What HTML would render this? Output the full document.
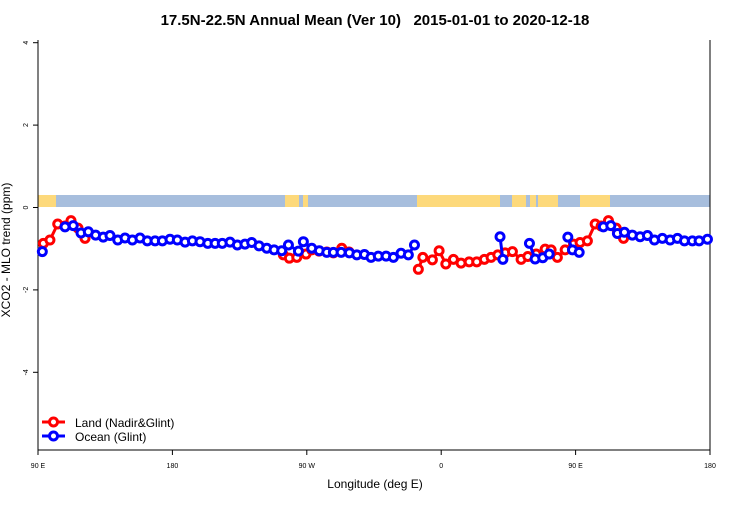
<!DOCTYPE html>
<html><head><meta charset="utf-8"><style>
body{margin:0;background:#fff;font-family:"Liberation Sans",sans-serif}
svg text{font-family:"Liberation Sans",sans-serif}
</style></head><body>
<svg id="c" width="750" height="500" xmlns="http://www.w3.org/2000/svg">
<text x="375" y="25" text-anchor="middle" font-size="15" font-weight="bold" style="white-space:pre" xml:space="preserve">17.5N-22.5N Annual Mean (Ver 10)   2015-01-01 to 2020-12-18</text>
<g id="strip"></g>
<g id="axes"></g>
<g id="series"></g>
<text x="375" y="488" text-anchor="middle" font-size="12">Longitude (deg E)</text>
<text transform="translate(10,250) rotate(-90)" text-anchor="middle" font-size="12">XCO2 - MLO trend (ppm)</text>
<g>
<g><line x1="42" y1="422" x2="65" y2="422" stroke="#f00" stroke-width="3"/><circle cx="53.5" cy="422" r="4" fill="#fff" stroke="#f00" stroke-width="3"/><text x="75" y="427" font-size="12">Land (Nadir&amp;Glint)</text></g>
<g><line x1="42" y1="436" x2="65" y2="436" stroke="#00f" stroke-width="3"/><circle cx="53.5" cy="436" r="4" fill="#fff" stroke="#00f" stroke-width="3"/><text x="75" y="441" font-size="12">Ocean (Glint)</text></g>
</g>
</svg>
<script>
const xTicks=[90,180,270,360,450,540];
const xTickLabels=["90 E","180","90 W","0","90 E","180"];
const yTicks=[4,2,0,-2,-4];
const landLon=[93.6,98.0,103.2,108.1,112.1,116.8,121.5,null,254.3,258.3,263.3,269.5,273.3,278.2,283.4,287.8,293.4,298.3,null,344.7,347.7,354.1,358.6,363.1,368.2,373.3,378.7,383.8,388.9,393.4,397.9,402.8,407.7,413.5,418.0,423.6,429.6,433.6,437.8,443.0,448.6,453.0,457.9,463.1,467.1,472.0,477.2,482.1];
const landVal=[-0.87,-0.79,-0.40,-0.45,-0.32,-0.50,-0.75,null,-1.15,-1.23,-1.21,-1.13,-1.03,-1.06,-1.08,-1.10,-0.99,-1.08,null,-1.50,-1.21,-1.27,-1.05,-1.37,-1.26,-1.35,-1.32,-1.32,-1.26,-1.21,-1.15,-1.10,-1.07,-1.26,-1.19,-1.13,-1.01,-1.03,-1.21,-1.03,-0.89,-0.85,-0.81,-0.40,-0.45,-0.32,-0.50,-0.75];
const oceanLon=[92.9,null,108.1,113.6,118.8,123.7,128.6,133.7,138.2,143.4,148.3,153.2,158.3,163.2,168.4,173.3,178.4,183.3,188.5,193.4,198.5,203.7,208.6,213.4,218.6,223.5,228.6,233.1,238.0,243.2,248.1,253.2,257.7,264.4,267.7,273.3,278.4,283.4,287.8,293.0,298.5,303.5,308.6,313.0,317.9,323.1,328.0,333.1,338.0,342.1,null,399.4,401.3,null,419.1,422.9,428.0,432.3,null,444.8,447.9,452.4,null,468.6,473.6,478.0,482.7,488.0,493.2,498.1,502.8,508.1,513.3,518.2,522.9,528.2,532.7,538.3];
const oceanVal=[-1.07,null,-0.47,-0.44,-0.62,-0.59,-0.67,-0.72,-0.68,-0.79,-0.74,-0.79,-0.74,-0.81,-0.81,-0.81,-0.77,-0.79,-0.84,-0.81,-0.83,-0.87,-0.87,-0.87,-0.84,-0.91,-0.89,-0.85,-0.93,-0.99,-1.03,-1.05,-0.91,-1.06,-0.83,-0.99,-1.05,-1.09,-1.09,-1.09,-1.10,-1.15,-1.14,-1.21,-1.18,-1.18,-1.21,-1.11,-1.15,-0.91,null,-0.71,-1.26,null,-0.87,-1.25,-1.22,-1.13,null,-0.72,-1.03,-1.09,null,-0.47,-0.44,-0.63,-0.60,-0.67,-0.71,-0.68,-0.79,-0.75,-0.79,-0.75,-0.81,-0.81,-0.81,-0.77];
const X0=38,X1=710,Y0=450,Y1=40;
const xs=v=>X0+(v-90)/450*(X1-X0);
const ys=v=>207.5-v*41.2;
const NS="http://www.w3.org/2000/svg";
function mk(t,a,p){const e=document.createElementNS(NS,t);for(const k in a)e.setAttribute(k,a[k]);p.appendChild(e);return e;}
const strip=document.getElementById('strip');
let r=mk('rect',{x:X0,y:195,width:X1-X0,height:12,fill:'#a7bedd'},strip);


[[38,6],[42,14],[285,14],[303,5],[417,83],[512,14],[530,6],[538,10],[548,10],[580,30]].forEach(s=>{
const e=mk('rect',{x:s[0],y:195,width:s[1],height:12,fill:'#fdd97b'},strip);


});
const ax=document.getElementById('axes');
let l=mk('path',{d:`M${X0},${Y1}V${Y0}H${X1}V${Y1}`,fill:'none',stroke:'#000','stroke-width':1},ax);


xTicks.forEach((t,i)=>{
const x=xs(t);
mk('line',{x1:x,y1:Y0,x2:x,y2:Y0+5,stroke:'#000'},ax);
const tx=mk('text',{x:x,y:468,'text-anchor':'middle','font-size':7},ax);
tx.textContent=xTickLabels[i];


});
yTicks.forEach(t=>{
const y=ys(t);
mk('line',{x1:X0-5,y1:y,x2:X0,y2:y,stroke:'#000'},ax);
const tx=mk('text',{transform:`translate(28,${y}) rotate(-90)`,'text-anchor':'middle','font-size':7},ax);
tx.textContent=t;


});
const sg=document.getElementById('series');
function draw(lon,val,col,name){
let d='',pen=false;
lon.forEach((v,i)=>{if(v==null||val[i]==null){pen=false;return;}d+=(pen?'L':'M')+xs(v)+','+ys(val[i]);pen=true;});
const p=mk('path',{d:d,fill:'none',stroke:col,'stroke-width':3},sg);


lon.forEach((v,i)=>{if(v==null||val[i]==null)return;
const c=mk('circle',{cx:xs(v),cy:ys(val[i]),r:4,fill:'#fff',stroke:col,'stroke-width':3},sg);


});
}
draw(landLon,landVal,'#f00','land');
draw(oceanLon,oceanVal,'#00f','ocean');
</script>
</body></html>
